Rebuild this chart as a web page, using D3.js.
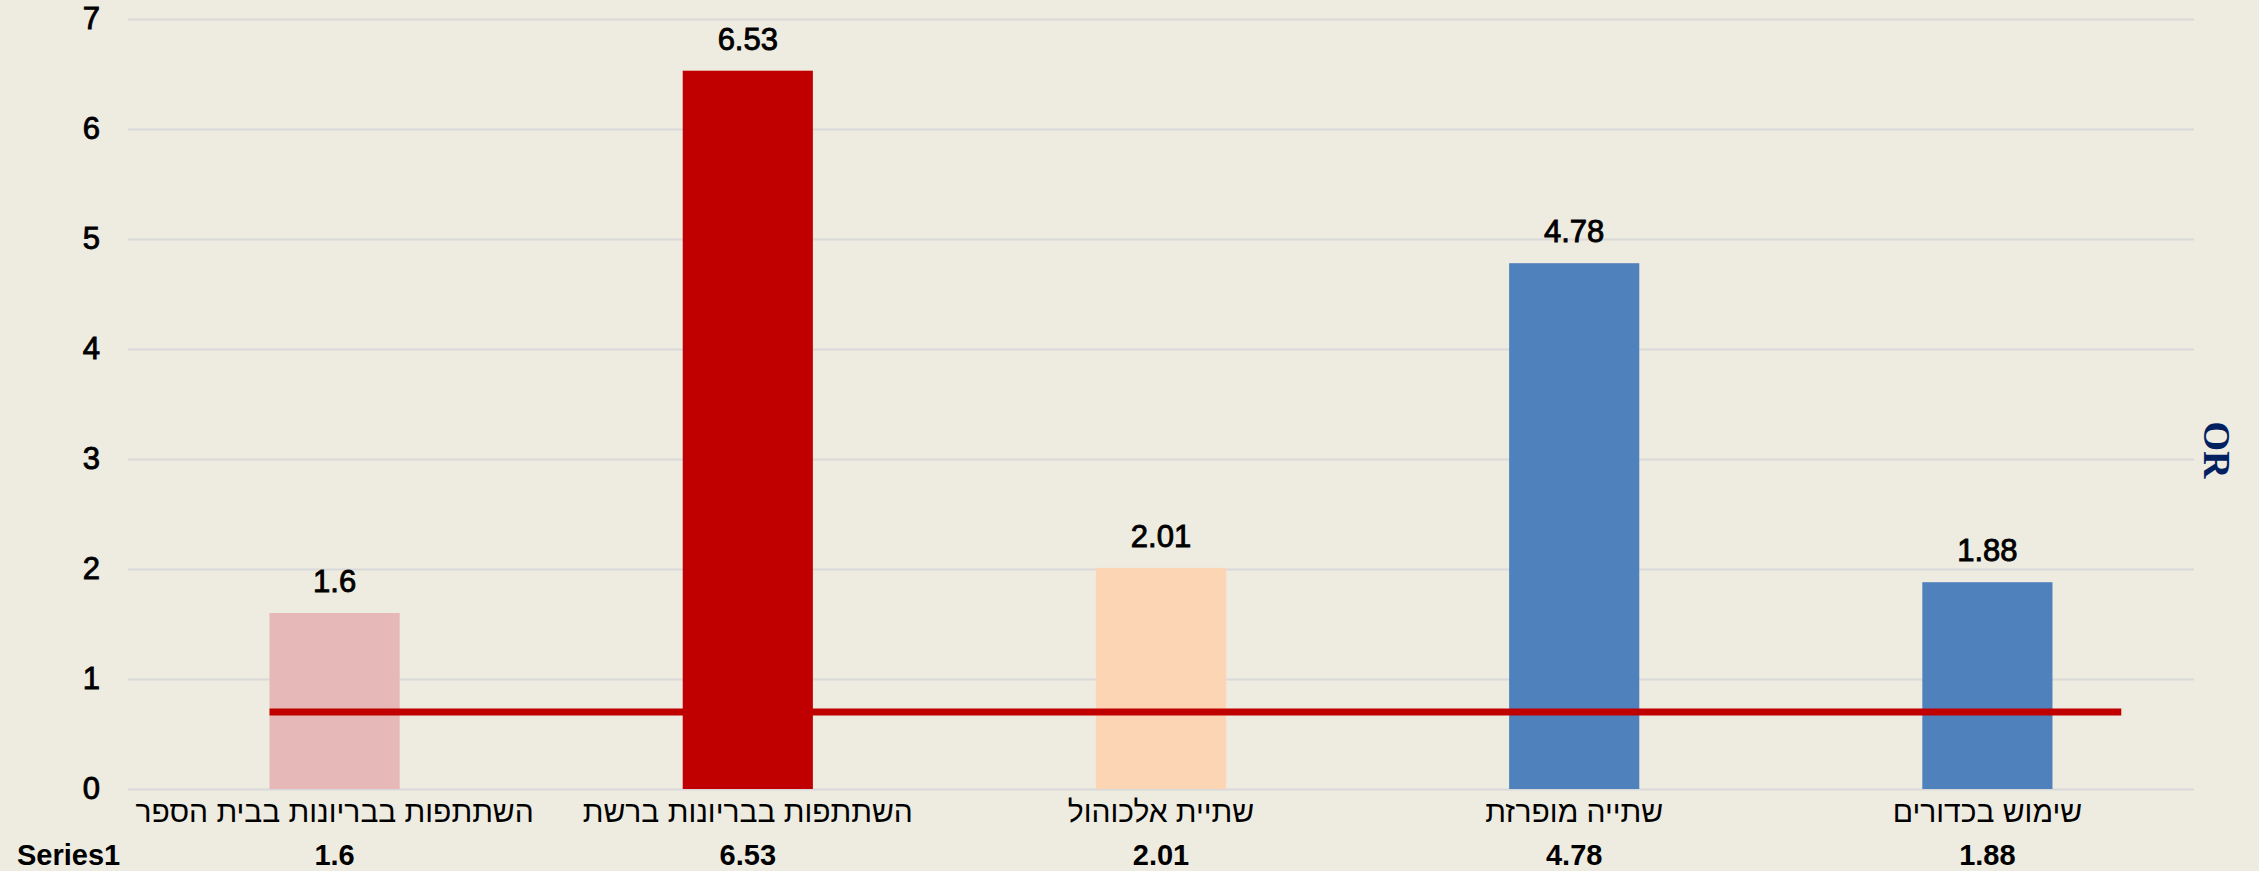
<!DOCTYPE html>
<html>
<head>
<meta charset="utf-8">
<script src="https://cdn.jsdelivr.net/npm/d3@7"></script>
<style>
  html, body { margin: 0; padding: 0; background: #EEEBE0; }
  svg { display: block; }
</style>
</head>
<body>
<svg id="chart" width="2259" height="871"></svg>
<script>
// chart data
const categories = [
  'השתתפות בבריונות בבית הספר',
  'השתתפות בבריונות ברשת',
  'שתיית אלכוהול',
  'שתייה מופרזת',
  'שימוש בכדורים'
];
const values = [1.6, 6.53, 2.01, 4.78, 1.88];
const barColors = ['#E6B8B7', '#C00000', '#FCD5B5', '#4F81BD', '#4F81BD'];
const yTicks = [0, 1, 2, 3, 4, 5, 6, 7];
const seriesName = 'Series1';
const refValue = 0.7;
const axisTitle = 'OR';

// layout
const WIDTH = 2259;
const HEIGHT = 871;
const PLOT_LEFT = 128;
const PLOT_RIGHT = 2194;
const PLOT_TOP = 19;
const PLOT_BOTTOM = 789;
const BAR_RATIO = 0.315;
const NUM_FONT = '"Liberation Sans", Arial, sans-serif';

const svg = d3.select('svg#chart');

svg.append('rect')
  .attr('width', WIDTH)
  .attr('height', HEIGHT)
  .attr('fill', '#EEEBE0');

const x = d3.scaleBand()
  .domain(categories)
  .range([PLOT_LEFT, PLOT_RIGHT])
  .padding(0);

const y = d3.scaleLinear()
  .domain([0, 7])
  .range([PLOT_BOTTOM, PLOT_TOP]);

const barWidth = x.bandwidth() * BAR_RATIO;
const barOffset = (x.bandwidth() - barWidth) / 2;

// gridlines + y tick labels
const yAxis = svg.append('g')
  .attr('transform', `translate(${PLOT_LEFT},0)`)
  .call(d3.axisLeft(y)
    .tickValues(yTicks)
    .tickSize(-(PLOT_RIGHT - PLOT_LEFT))
    .tickPadding(28)
    .tickFormat(d3.format('d')));

yAxis.select('.domain').remove();
yAxis.selectAll('.tick line')
  .attr('stroke', '#D9D9D9')
  .attr('stroke-width', 2);
yAxis.selectAll('.tick text')
  .attr('font-family', NUM_FONT)
  .attr('font-size', '31px')
  .attr('font-weight', 'normal')
  .attr('stroke', '#000')
  .attr('stroke-width', 0.9)
  .attr('fill', '#000');

// bars
svg.selectAll('rect.bar')
  .data(values)
  .enter()
  .append('rect')
  .attr('class', 'bar')
  .attr('x', (val, idx) => x(categories[idx]) + barOffset)
  .attr('y', (val) => y(val))
  .attr('width', barWidth)
  .attr('height', (val) => y(0) - y(val))
  .attr('fill', (val, idx) => barColors[idx]);

// value labels above bars
svg.selectAll('text.value')
  .data(values)
  .enter()
  .append('text')
  .attr('class', 'value')
  .attr('x', (val, idx) => x(categories[idx]) + x.bandwidth() / 2)
  .attr('y', (val) => y(val) - 21)
  .attr('text-anchor', 'middle')
  .attr('font-family', NUM_FONT)
  .attr('font-size', '31px')
  .attr('stroke', '#000')
  .attr('stroke-width', 0.9)
  .attr('fill', '#000')
  .text((val) => val);

// reference line
svg.append('line')
  .attr('x1', x(categories[0]) + barOffset)
  .attr('x2', x(categories[categories.length - 1]) + x.bandwidth() * 0.824)
  .attr('y1', y(refValue))
  .attr('y2', y(refValue))
  .attr('stroke', '#C00000')
  .attr('stroke-width', 7);

// category labels (data table row 1)
svg.selectAll('text.cat')
  .data(categories)
  .enter()
  .append('text')
  .attr('class', 'cat')
  .attr('x', (val) => x(val) + x.bandwidth() / 2)
  .attr('y', PLOT_BOTTOM + 33)
  .attr('text-anchor', 'middle')
  .attr('direction', 'rtl')
  .attr('font-family', NUM_FONT)
  .attr('font-size', '30px')
  .attr('fill', '#000')
  .text((val) => val);

// data table row 2
svg.append('text')
  .attr('x', 17)
  .attr('y', PLOT_BOTTOM + 76)
  .attr('font-family', NUM_FONT)
  .attr('font-size', '29px')
  .attr('font-weight', 'bold')
  .attr('fill', '#000')
  .text(seriesName);

svg.selectAll('text.tableval')
  .data(values)
  .enter()
  .append('text')
  .attr('class', 'tableval')
  .attr('x', (val, idx) => x(categories[idx]) + x.bandwidth() / 2)
  .attr('y', PLOT_BOTTOM + 76)
  .attr('text-anchor', 'middle')
  .attr('font-family', NUM_FONT)
  .attr('font-size', '29px')
  .attr('font-weight', 'bold')
  .attr('fill', '#000')
  .text((val) => val);

// axis title on the right, rotated
svg.append('text')
  .attr('transform', `translate(2204,${y(3) - 9}) rotate(90)`)
  .attr('text-anchor', 'middle')
  .attr('font-family', '"Liberation Serif", "Times New Roman", serif')
  .attr('font-size', '38px')
  .attr('font-weight', 'bold')
  .attr('fill', '#002060')
  .text(axisTitle);
</script>
</body>
</html>
